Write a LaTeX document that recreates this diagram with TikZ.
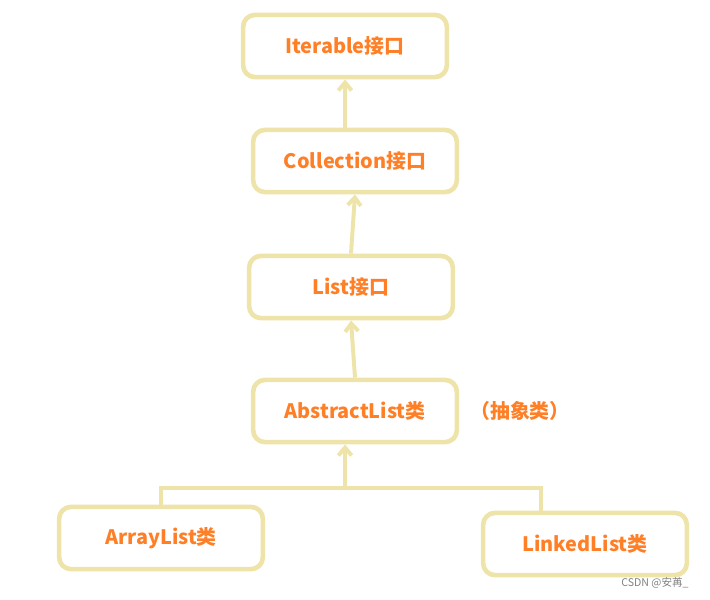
\documentclass[tikz,border=0pt]{standalone}
\usepackage{fontspec}
\setmainfont{Noto Sans CJK SC}
\usetikzlibrary{positioning, arrows.meta}
\definecolor{pale}{RGB}{238,228,170}
\definecolor{tangerine}{RGB}{255,127,39}
\tikzset{
  box/.style={draw=pale, line width=3.5pt, rounded corners=9pt,
    minimum width=5.4cm, minimum height=1.65cm, font=\bfseries\fontsize{15}{18}\selectfont,
    text=tangerine},
  link/.style={draw=pale, line width=3pt, -{Straight Barb[length=6pt,width=10pt]}}
}

\begin{document}
\begin{tikzpicture}[x=0.0265cm, y=-0.0265cm]
    \useasboundingbox (0,0) rectangle (710,599);
    \node[box] (iterable) at (345,46) {Iterable接口};
    \node[box] (collection) at (355,161) {Collection接口};
    \node[box] (list) at (351,287) {List接口};
    \node[box] (abstract) at (355,411) {AbstractList类};
    \node[font=\bfseries\fontsize{15}{18}\selectfont, text=tangerine] (note) at (520,411) {（抽象类）};
    \node[box] (array) at (161,538) {ArrayList类};
    \node[box] (linked) at (585,544) {LinkedList类};
    \coordinate (join) at (345,488);

    \draw[link] (collection.north -| iterable) -- (iterable.south);
    \draw[link] (list.north) -- (collection.south);
    \draw[link] (abstract.north) -- (list.south);
    \draw[link] (join) -- (abstract.south -| join);
    \draw[pale, line width=3pt] (array.north) |- (join) -| (linked.north -| 541,0);
    \node[text=gray, font=\fontsize{8}{10}\selectfont] (mark) at (655,583) {CSDN @安苒\_};
\end{tikzpicture}
\end{document}
